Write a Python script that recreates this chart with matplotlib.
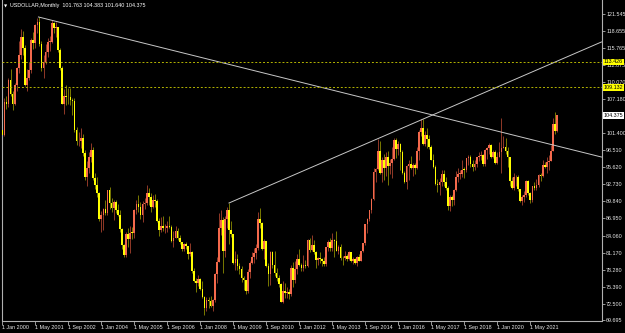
import matplotlib
matplotlib.use('Agg')
import matplotlib.pyplot as plt
from matplotlib import font_manager
import matplotlib.transforms as mtransforms

# monthly candles, Jan 2000 .. Jun 2022 (DXY-like)
first_open = 101.87
close = [
    101.00, 106.72, 106.35, 110.44, 108.06, 106.40, 109.47, 112.40, 114.56, 117.67, 115.75, 109.56,  # 2000
    110.79, 112.10, 117.11, 116.60, 119.72, 120.18, 116.48, 112.47, 113.37, 115.13, 116.80, 116.82,  # 2001
    120.03, 119.22, 119.28, 115.41, 112.41, 106.37, 107.72, 107.57, 107.44, 106.97, 106.79, 101.87,  # 2002
    100.00, 100.03, 100.63, 97.98, 93.98, 95.42, 97.30, 98.47, 93.88, 92.66, 91.22, 86.92,  # 2003
    87.60, 88.58, 87.96, 91.70, 89.53, 88.65, 89.79, 88.41, 87.60, 85.20, 82.40, 80.85,  # 2004
    84.28, 83.41, 84.58, 84.52, 88.47, 89.47, 88.85, 87.60, 89.32, 89.54, 91.33, 90.65,  # 2005
    88.90, 90.00, 89.84, 86.45, 84.99, 85.65, 85.30, 85.31, 85.70, 85.52, 83.20, 83.70,  # 2006
    84.90, 83.66, 82.91, 81.77, 82.62, 82.25, 80.91, 81.28, 78.00, 76.41, 76.05, 76.70,  # 2007
    75.03, 73.67, 71.80, 73.20, 72.95, 72.20, 73.15, 77.50, 79.60, 85.34, 86.68, 81.39,  # 2008
    86.92, 88.38, 85.05, 84.38, 79.44, 80.11, 78.88, 78.40, 76.85, 76.57, 74.71, 77.86,  # 2009
    79.46, 80.37, 81.04, 81.88, 86.81, 86.22, 81.80, 83.08, 78.90, 77.50, 81.24, 79.03,  # 2010
    77.80, 76.80, 75.95, 72.89, 74.62, 74.31, 74.50, 74.17, 78.57, 76.50, 78.42, 80.18,  # 2011
    79.13, 78.57, 79.00, 78.83, 83.26, 81.63, 82.44, 81.20, 79.93, 80.20, 80.17, 79.77,  # 2012
    79.20, 82.06, 82.99, 81.90, 83.27, 83.15, 81.46, 82.10, 80.22, 80.20, 80.69, 80.04,  # 2013
    81.25, 79.69, 80.10, 79.47, 80.44, 79.78, 81.50, 82.73, 85.94, 86.87, 88.36, 90.27,  # 2014
    94.80, 95.30, 98.36, 94.60, 96.91, 95.49, 97.34, 95.90, 96.36, 97.00, 100.17, 98.63,  # 2015
    99.61, 98.21, 94.59, 93.10, 95.88, 96.14, 95.53, 96.03, 95.45, 98.45, 101.50, 102.21,  # 2016
    99.51, 101.12, 100.35, 99.05, 96.92, 95.63, 92.86, 92.67, 93.08, 94.55, 93.05, 92.12,  # 2017
    89.13, 90.61, 90.15, 91.84, 93.98, 94.47, 94.52, 95.14, 95.13, 97.13, 97.27, 96.17,  # 2018
    95.58, 96.16, 97.28, 97.48, 97.75, 96.13, 98.52, 98.92, 99.38, 97.35, 98.27, 96.39,  # 2019
    97.39, 98.13, 98.94, 99.02, 98.34, 97.39, 93.35, 92.14, 93.89, 94.04, 91.87, 89.94,  # 2020
    90.58, 90.88, 93.23, 91.28, 90.03, 92.44, 92.17, 92.63, 94.23, 94.12, 95.99, 95.67,  # 2021
    96.54, 96.71, 98.31, 102.96, 101.76, 104.375,  # 2022
]
high = [
    102.20, 107.40, 107.60, 110.70, 112.20, 108.50, 109.90, 112.60, 117.00, 119.00, 118.60, 116.30,
    112.20, 113.50, 117.50, 118.50, 119.90, 120.90, 121.02, 116.90, 114.60, 116.40, 117.50, 117.80,
    120.51, 120.20, 120.20, 119.40, 115.80, 112.70, 108.90, 109.60, 109.00, 109.10, 107.40, 107.30,
    102.50, 101.50, 102.20, 101.30, 98.50, 96.60, 98.20, 99.70, 99.00, 94.60, 94.00, 91.50,
    88.30, 88.80, 90.10, 91.80, 92.30, 90.50, 90.00, 90.00, 89.40, 88.40, 85.40, 82.60,
    84.60, 85.40, 85.60, 85.50, 88.60, 90.10, 91.00, 89.80, 89.90, 90.50, 92.60, 92.10,
    91.30, 91.00, 91.10, 90.20, 87.00, 87.20, 87.30, 86.00, 86.60, 87.40, 85.80, 84.80,
    85.60, 85.30, 84.20, 83.00, 82.80, 83.00, 82.30, 82.80, 81.40, 78.60, 76.90, 77.40,
    76.90, 76.40, 73.90, 73.60, 73.70, 73.90, 73.40, 77.80, 80.40, 87.90, 88.40, 87.20,
    87.40, 88.90, 89.62, 86.50, 84.40, 81.40, 81.00, 79.50, 78.90, 77.20, 76.60, 78.40,
    79.70, 81.30, 82.00, 82.60, 88.00, 88.70, 86.40, 83.50, 83.20, 79.50, 81.40, 81.40,
    81.50, 78.60, 77.40, 76.10, 76.40, 76.00, 75.30, 75.00, 79.00, 79.60, 79.80, 81.00,
    81.80, 79.40, 80.70, 80.00, 83.50, 83.60, 84.10, 83.30, 81.40, 80.40, 81.30, 80.30,
    80.50, 82.10, 83.30, 83.60, 84.50, 83.40, 84.80, 82.40, 82.60, 80.60, 81.50, 81.00,
    81.50, 81.30, 80.40, 80.30, 80.60, 81.00, 81.50, 82.80, 86.00, 87.10, 88.40, 90.50,
    95.50, 95.50, 100.39, 100.10, 97.30, 97.80, 98.20, 98.30, 97.00, 99.00, 100.50, 100.50,
    100.00, 99.80, 98.50, 95.00, 96.00, 96.80, 97.60, 96.40, 96.30, 99.10, 102.00, 103.70,
    103.82, 101.80, 102.30, 101.00, 99.30, 97.90, 96.00, 93.70, 93.80, 95.20, 95.10, 94.00,
    92.50, 90.90, 90.90, 91.90, 95.00, 95.50, 95.20, 96.90, 95.70, 97.20, 97.70, 97.70,
    96.90, 96.90, 97.40, 98.20, 98.40, 97.80, 98.70, 99.00, 99.70, 99.60, 98.50, 98.50,
    98.20, 99.90, 104.00, 100.90, 100.50, 99.00, 97.40, 93.90, 94.70, 94.30, 94.30, 91.90,
    91.00, 91.60, 93.40, 93.40, 91.40, 92.50, 93.20, 93.70, 94.50, 94.60, 96.90, 96.50,
    97.40, 97.70, 99.40, 103.90, 105.01, 104.383,
]
low = [
    100.20, 100.90, 105.50, 105.80, 107.60, 105.30, 106.10, 108.60, 111.60, 114.00, 114.60, 109.30,
    108.60, 110.40, 111.50, 115.70, 115.80, 118.30, 116.10, 111.90, 110.70, 113.00, 114.30, 115.30,
    116.60, 118.30, 117.60, 115.10, 112.10, 106.30, 104.60, 106.10, 106.30, 106.20, 104.50, 101.60,
    99.40, 99.20, 98.80, 97.50, 93.40, 92.40, 94.60, 96.50, 93.50, 91.90, 90.60, 86.60,
    84.70, 85.00, 87.60, 87.60, 88.60, 88.10, 86.70, 87.80, 87.40, 84.70, 81.80, 80.40,
    80.40, 82.10, 81.10, 83.40, 83.60, 87.70, 88.00, 86.90, 86.30, 88.50, 89.30, 89.30,
    88.00, 88.80, 88.90, 86.30, 84.00, 84.70, 84.90, 84.50, 84.60, 85.40, 82.90, 82.20,
    83.60, 83.30, 82.70, 81.40, 81.40, 81.80, 80.10, 80.60, 77.80, 76.20, 74.50, 75.50,
    74.90, 73.50, 70.70, 71.30, 71.80, 72.00, 71.31, 72.90, 76.10, 79.60, 84.20, 77.70,
    80.50, 85.30, 82.60, 83.90, 79.30, 78.30, 78.30, 77.60, 76.20, 74.90, 74.20, 74.30,
    76.80, 79.20, 79.40, 80.10, 81.60, 85.30, 81.60, 80.10, 78.80, 75.60, 75.70, 78.50,
    77.20, 76.30, 75.30, 72.80, 72.70, 73.50, 73.50, 73.40, 73.80, 75.30, 76.10, 77.60,
    78.90, 78.10, 78.10, 78.60, 78.70, 81.20, 81.40, 80.90, 78.60, 79.10, 79.50, 78.90,
    78.90, 78.90, 81.50, 81.50, 81.50, 80.50, 81.40, 80.90, 79.90, 79.00, 80.00, 79.80,
    79.90, 79.60, 79.20, 79.20, 78.90, 79.70, 79.70, 81.30, 82.50, 84.50, 86.50, 87.80,
    90.10, 93.20, 95.10, 94.50, 93.10, 93.50, 94.20, 92.60, 94.50, 93.80, 96.90, 97.20,
    97.70, 95.20, 94.50, 92.90, 91.90, 93.40, 95.30, 94.10, 94.50, 95.40, 96.90, 100.90,
    99.40, 99.20, 98.80, 98.70, 96.80, 95.50, 92.60, 91.40, 91.00, 92.50, 92.50, 91.80,
    88.40, 88.30, 89.00, 89.20, 91.60, 93.20, 93.70, 94.00, 93.80, 94.80, 96.00, 95.70,
    95.00, 95.20, 95.70, 96.70, 96.90, 95.80, 95.80, 97.00, 97.90, 97.10, 97.10, 96.20,
    96.20, 97.30, 94.65, 98.80, 97.90, 95.70, 92.50, 91.90, 91.70, 92.50, 91.60, 89.70,
    89.20, 89.70, 90.60, 90.90, 89.50, 89.70, 91.80, 91.80, 92.30, 93.30, 93.90, 95.50,
    94.60, 95.10, 96.60, 98.30, 101.30, 101.640,
]
opens = [first_open] + close[:-1]

date_pos = [0, 16, 32, 48, 64, 80, 96, 112, 128, 144, 160, 176, 192, 208, 224, 240, 256]
date_labels = ['1 Jan 2000', '1 May 2001', '1 Sep 2002', '1 Jan 2004', '1 May 2005',
               '1 Sep 2006', '1 Jan 2008', '1 May 2009', '1 Sep 2010', '1 Jan 2012',
               '1 May 2013', '1 Sep 2014', '1 Jan 2016', '1 May 2017', '1 Sep 2018',
               '1 Jan 2020', '1 May 2021']
# 104.290 sits under the current-price box, so it is left out
price_ticks = [121.545, 118.655, 115.765, 112.875, 110.070, 107.180, 101.400,
               98.510, 95.620, 92.730, 89.840, 86.950, 84.060, 81.170, 78.280,
               75.390, 72.500, 69.695]
# trend lines (month index, price)
line_down = ([17.5, 290.5], [121.04, 97.35])
line_up = ([109.9, 290.5], [89.57, 116.81])
levels = [113.426, 109.132]
last_price = 104.375
title = 'USDOLLAR,Monthly  101.763 104.383 101.640 104.375'

names = {f.name for f in font_manager.fontManager.ttflist}
if 'Liberation Sans Narrow' in names:
    fam, fs = 'Liberation Sans Narrow', 4.6
else:
    fam, fs = 'Liberation Sans', 3.9

fig = plt.figure(figsize=(6.25, 3.33), dpi=100, facecolor='black')
ax = fig.add_axes([2 / 625, 12.5 / 333, 600 / 625, 320.5 / 333], facecolor='black')

bull_body, bull_wick = '#f4694c', '#a8422e'
bear_body, bear_wick = '#ffff00', '#8c8c00'
for i in range(len(close)):
    o, c, h, l = opens[i], close[i], high[i], low[i]
    up = c >= o
    ax.vlines(i, l, h, color=bull_wick if up else bear_wick, lw=0.6, zorder=2)
    lo, hi = min(o, c), max(o, c)
    ax.bar(i, max(hi - lo, 0.12), bottom=lo, width=0.8,
           color=bull_body if up else bear_body, linewidth=0, zorder=3)

ax.plot(*line_down, color='#c8c8c8', lw=0.7, zorder=4)
ax.plot(*line_up, color='#c8c8c8', lw=0.7, zorder=4)
for lv in levels:
    ax.axhline(lv, color='#b4b400', lw=0.7, ls=(0, (2, 2)), zorder=4)

ax.set_xlim(-0.15, 290.76)
ax.set_ylim(69.695, 123.91)

ax.spines['top'].set_visible(False)
for s in ['left', 'right', 'bottom']:
    ax.spines[s].set_color('#b0b0b0')
    ax.spines[s].set_linewidth(0.8)

ax.yaxis.tick_right()
ax.set_yticks(price_ticks, ['%.3f' % v for v in price_ticks])
ax.set_xticks(date_pos, date_labels)
ax.tick_params(axis='y', length=2.0, width=0.6, color='#b0b0b0', pad=1.0,
               labelsize=fs, labelcolor='#e8e8e8')
ax.tick_params(axis='x', length=3, width=0.6, color='#b0b0b0', pad=0.5,
               labelsize=fs, labelcolor='#e8e8e8')
for t in ax.get_xticklabels() + ax.get_yticklabels():
    t.set_fontfamily(fam)
for t in ax.get_xticklabels():
    t.set_horizontalalignment('left')

trans = mtransforms.blended_transform_factory(ax.transAxes, ax.transData)
for lv in levels:
    ax.text(1.003, lv, '%.3f' % lv, transform=trans, fontsize=fs, family=fam,
            color='black', va='center', ha='left', clip_on=False, zorder=10,
            bbox=dict(facecolor='#ffff00', edgecolor='none', pad=0.6))
ax.text(1.003, last_price, '%.3f' % last_price, transform=trans, fontsize=fs, family=fam,
        color='black', va='center', ha='left', clip_on=False, zorder=10,
        bbox=dict(facecolor='white', edgecolor='none', pad=0.6))

fig.text(4 / 625, 1 - 6 / 333, '\u25bc', fontsize=3, color='white', va='center',
         family='DejaVu Sans')
fig.text(10 / 625, 1 - 6 / 333, title, fontsize=fs, color='white', va='center', family=fam)

fig.savefig('out.png', dpi=100, facecolor='black')
